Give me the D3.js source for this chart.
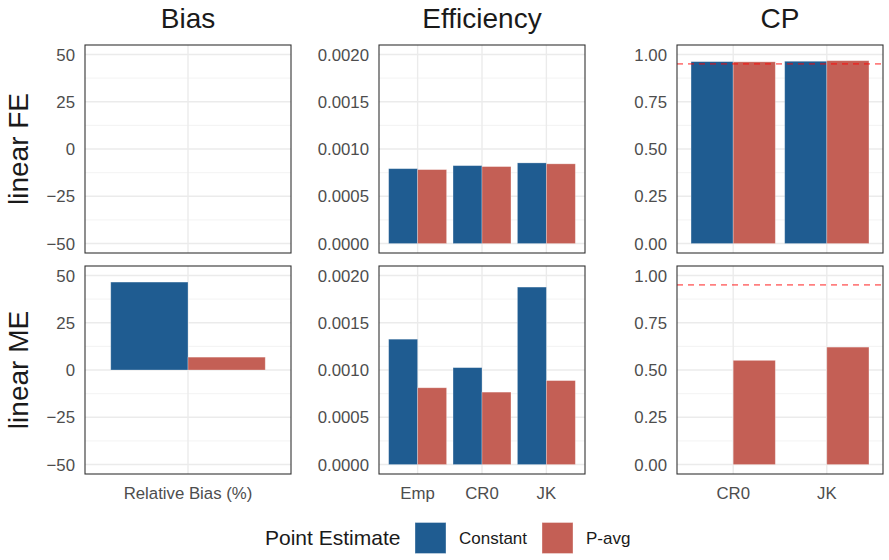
<!DOCTYPE html>
<html>
<head>
<meta charset="utf-8">
<script src="https://cdn.jsdelivr.net/npm/d3@7"></script>
<style>
  body { margin: 0; background: #fff; }
  text { font-family: "Liberation Sans", Arial, sans-serif; }
</style>
</head>
<body>
<div id="chart"></div>
<script>
// Data
const columns = ["Bias", "Efficiency", "CP"];
const rows = ["linear FE", "linear ME"];
const estimates = ["Constant", "P-avg"];
const colors = ["#1f5c91", "#c45f55"];

const biasCats = ["Relative Bias (%)"];
const effCats = ["Emp", "CR0", "JK"];
const cpCats = ["CR0", "JK"];

// values per row, per estimate (Constant, P-avg); null = missing
const biasFE = [[null], [null]];
const biasME = [[46.5], [6.8]];
const effFE = [[0.000792, 0.000824, 0.000853], [0.000782, 0.000814, 0.000843]];
const effME = [[0.001326, 0.001025, 0.001877], [0.000812, 0.000766, 0.000888]];
const cpFE = [[0.962, 0.964], [0.961, 0.967]];
const cpME = [[null, null], [0.551, 0.621]];
const cpTarget = 0.95;

const biasTicks = [-50, -25, 0, 25, 50];
const effTicks = [0, 0.0005, 0.001, 0.0015, 0.002];
const cpTicks = [0, 0.25, 0.5, 0.75, 1];

const panels = [
  { cats: biasCats, ticks: biasTicks, domain: [-55, 55], fmt: d3.format("d"), data: [biasFE, biasME] },
  { cats: effCats, ticks: effTicks, domain: [-0.0001, 0.0021], fmt: d3.format(".4f"), data: [effFE, effME] },
  { cats: cpCats, ticks: cpTicks, domain: [-0.05, 1.05], fmt: d3.format(".2f"), data: [cpFE, cpME], hline: cpTarget }
];

const width = 889, height = 560;
const panelX = [85, 379, 677];
const panelY = [45, 266];
const pw = 206, ph = 208;

const svg = d3.select("#chart").append("svg")
    .attr("width", width)
    .attr("height", height);

// column strip titles
columns.forEach((c, i) => {
  svg.append("text")
      .attr("x", panelX[i] + pw / 2)
      .attr("y", 27.5)
      .attr("text-anchor", "middle")
      .attr("font-size", 28)
      .attr("fill", "#1a1a1a")
      .text(c);
});

// row strip titles
rows.forEach((r, j) => {
  svg.append("text")
      .attr("transform", `translate(27.5,${panelY[j] + ph / 2}) rotate(-90)`)
      .attr("text-anchor", "middle")
      .attr("font-size", 28)
      .attr("fill", "#1a1a1a")
      .text(r);
});

panels.forEach((p, i) => {
  rows.forEach((r, j) => {
    const g = svg.append("g").attr("transform", `translate(${panelX[i]},${panelY[j]})`);

    const x = d3.scalePoint().domain(p.cats).range([0, pw]).padding(0.6);
    const y = d3.scaleLinear().domain(p.domain).range([ph, 0]);
    const bw = x.step() * 0.9;

    // minor grid
    const minor = d3.pairs(p.ticks).map(([a, b]) => (a + b) / 2);
    g.selectAll(".minor").data(minor).join("line")
        .attr("x1", 0).attr("x2", pw)
        .attr("y1", d => y(d)).attr("y2", d => y(d))
        .attr("stroke", "#f0f0f0").attr("stroke-width", 0.8);

    // major grid
    g.selectAll(".hmajor").data(p.ticks).join("line")
        .attr("x1", 0).attr("x2", pw)
        .attr("y1", d => y(d)).attr("y2", d => y(d))
        .attr("stroke", "#ebebeb").attr("stroke-width", 1.4);
    g.selectAll(".vmajor").data(p.cats).join("line")
        .attr("x1", d => x(d)).attr("x2", d => x(d))
        .attr("y1", 0).attr("y2", ph)
        .attr("stroke", "#ebebeb").attr("stroke-width", 1.4);

    // bars
    const vals = p.data[j];
    estimates.forEach((e, k) => {
      const bars = p.cats.map((c, ci) => ({ c, v: vals[k][ci] })).filter(d => d.v != null);
      g.selectAll(".bar" + k).data(bars).join("rect")
          .attr("x", d => x(d.c) - bw / 2 + k * bw / 2)
          .attr("width", bw / 2)
          .attr("y", d => y(Math.max(0, d.v)))
          .attr("height", d => Math.abs(y(d.v) - y(0)))
          .attr("fill", colors[k])
          .attr("stroke", "#ffffff")
          .attr("stroke-opacity", 0.35)
          .attr("stroke-width", 0.8);
    });

    // target line
    if (p.hline != null) {
      g.append("line")
          .attr("x1", 0).attr("x2", pw)
          .attr("y1", y(p.hline)).attr("y2", y(p.hline))
          .attr("stroke", "#ff0000")
          .attr("stroke-opacity", 0.5)
          .attr("stroke-width", 1.6)
          .attr("stroke-dasharray", "6,5");
    }

    // border
    g.append("rect")
        .attr("width", pw).attr("height", ph)
        .attr("fill", "none")
        .attr("stroke", "#333333")
        .attr("stroke-width", 1.1);

    // y tick labels
    g.selectAll(".ytick").data(p.ticks).join("text")
        .attr("x", -10)
        .attr("y", d => y(d))
        .attr("dy", "0.36em")
        .attr("text-anchor", "end")
        .attr("font-size", 16.8)
        .attr("fill", "#4d4d4d")
        .text(d => p.fmt(d));

    // x tick labels on bottom row
    if (j === rows.length - 1) {
      g.selectAll(".xtick").data(p.cats).join("text")
          .attr("x", d => x(d))
          .attr("y", ph + 25)
          .attr("text-anchor", "middle")
          .attr("font-size", 16.8)
          .attr("fill", "#4d4d4d")
          .text(d => d);
    }
  });
});

// legend
const legend = svg.append("g").attr("transform", "translate(265,538)");
legend.append("text")
    .attr("x", 0).attr("y", 0)
    .attr("dy", "0.35em")
    .attr("font-size", 21)
    .attr("fill", "#1a1a1a")
    .text("Point Estimate");
const keyX = [150, 277];
estimates.forEach((e, k) => {
  legend.append("rect")
      .attr("x", keyX[k]).attr("y", -15.5)
      .attr("width", 31).attr("height", 31)
      .attr("fill", colors[k])
      .attr("stroke", "#ffffff")
      .attr("stroke-opacity", 0.35);
  legend.append("text")
      .attr("x", keyX[k] + 44).attr("y", 0)
      .attr("dy", "0.35em")
      .attr("font-size", 17)
      .attr("fill", "#1a1a1a")
      .text(e);
});
</script>
</body>
</html>
